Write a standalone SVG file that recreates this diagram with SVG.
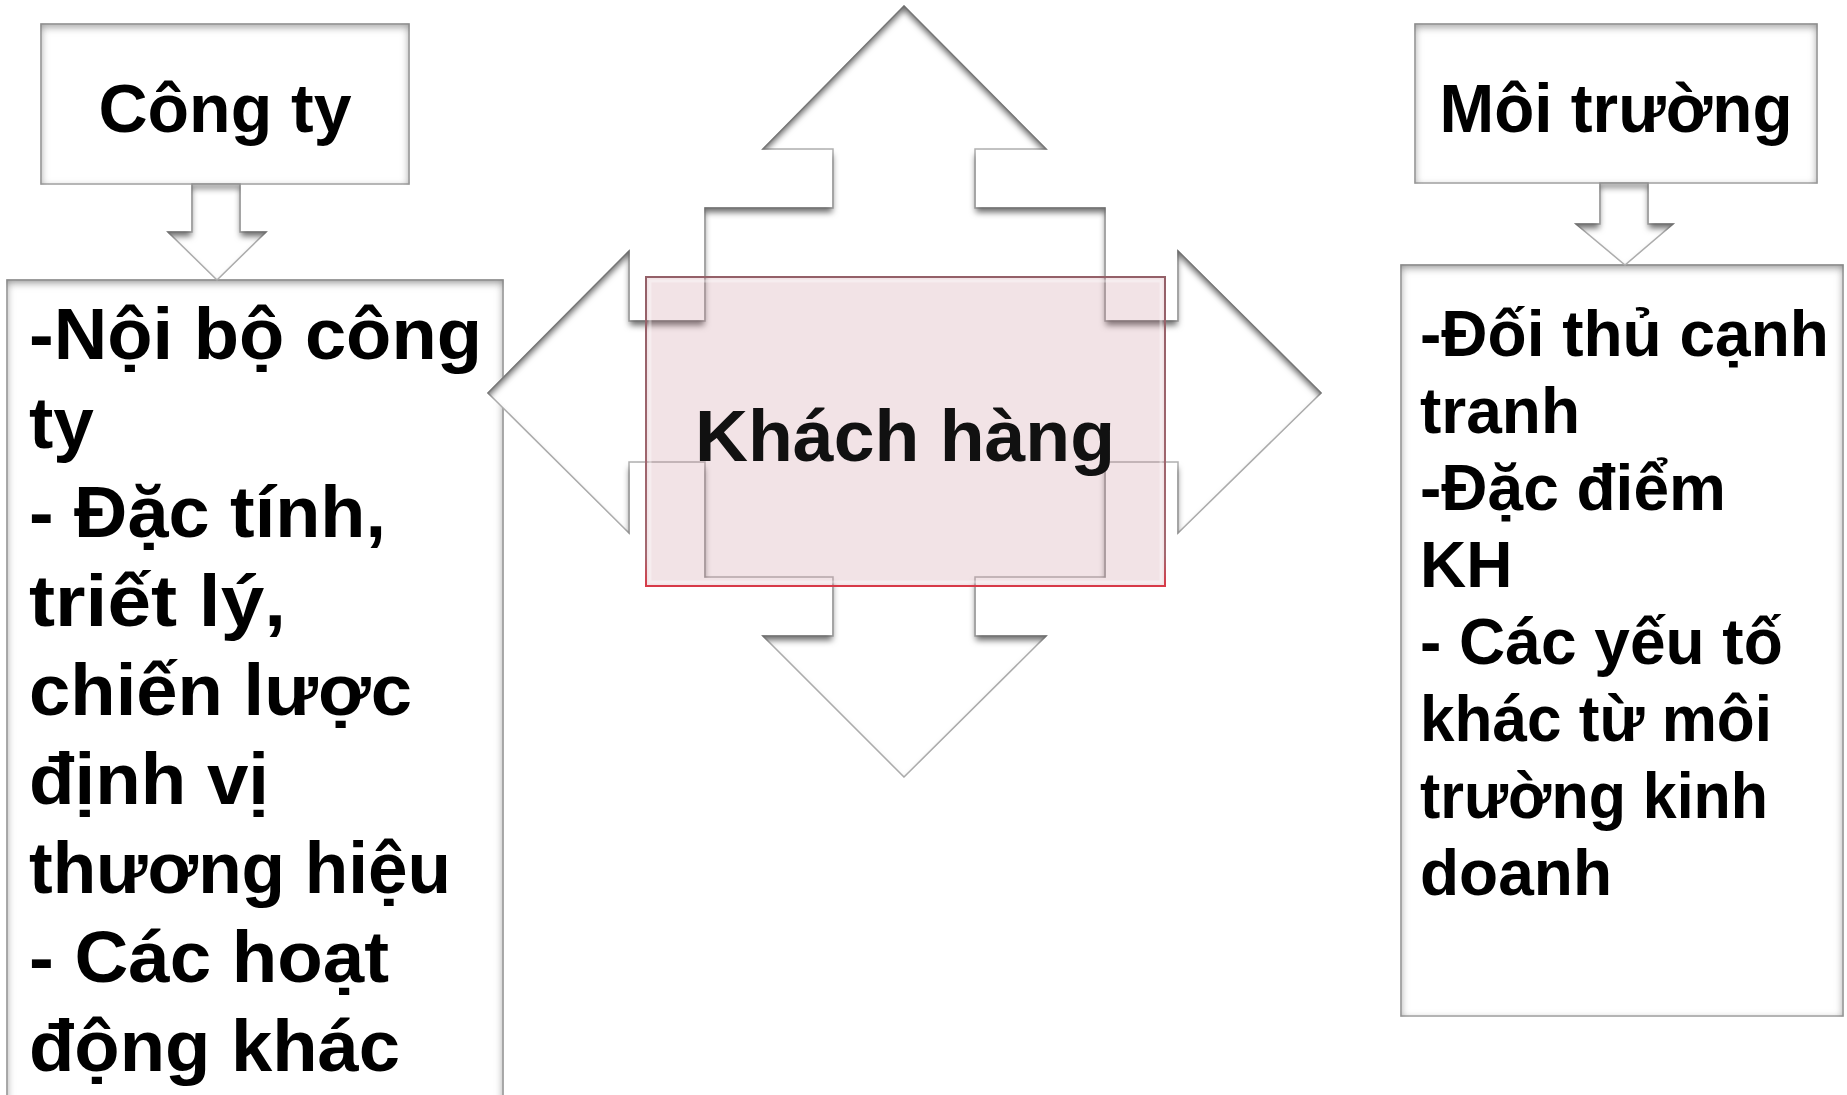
<svg xmlns="http://www.w3.org/2000/svg" width="1847" height="1095" viewBox="0 0 1847 1095">
  <defs>
    <style>
      .box { fill: #ffffff; stroke: #a9a9a9; stroke-width: 1.5; filter: url(#boxBevel); }
      .arrow { fill: #ffffff; stroke: #b2b2b2; stroke-width: 1.5; stroke-linejoin: miter; filter: url(#arrowBevel); }
      .head { font-family: "Liberation Sans", Arial, sans-serif; font-weight: bold; font-size: 68px; fill: #000000; text-anchor: middle; }
      .list { font-family: "Liberation Sans", Arial, sans-serif; font-weight: bold; fill: #000000; }
      .left { font-size: 73px; }
      .right { font-size: 64px; }
      .center { font-family: "Liberation Sans", Arial, sans-serif; font-weight: bold; font-size: 72px; fill: #111111; text-anchor: middle; }
    </style>
    <!-- soft inner shading along the edges of the boxes -->
    <filter id="boxBevel" x="-5%" y="-5%" width="110%" height="110%" color-interpolation-filters="sRGB">
      <feComponentTransfer in="SourceAlpha" result="inv">
        <feFuncA type="table" tableValues="1 0"/>
      </feComponentTransfer>
      <feOffset in="inv" dx="0" dy="3" result="off"/>
      <feGaussianBlur in="off" stdDeviation="4" result="blurInv"/>
      <feFlood flood-color="#7c7c7c" flood-opacity="0.9"/>
      <feComposite in2="blurInv" operator="in"/>
      <feComposite in2="SourceAlpha" operator="in" result="shade"/>
      <feMerge>
        <feMergeNode in="SourceGraphic"/>
        <feMergeNode in="shade"/>
      </feMerge>
    </filter>
    <!-- inner shadow cast from above for the arrow shapes -->
    <filter id="arrowBevel" x="-5%" y="-5%" width="110%" height="110%" color-interpolation-filters="sRGB">
      <feComponentTransfer in="SourceAlpha" result="inv">
        <feFuncA type="table" tableValues="1 0"/>
      </feComponentTransfer>
      <feOffset in="inv" dx="0" dy="5" result="off"/>
      <feGaussianBlur in="off" stdDeviation="3" result="blurInv"/>
      <feFlood flood-color="#6a6a6a" flood-opacity="1"/>
      <feComposite in2="blurInv" operator="in"/>
      <feComposite in2="SourceAlpha" operator="in" result="shade"/>
      <feMerge>
        <feMergeNode in="SourceGraphic"/>
        <feMergeNode in="shade"/>
      </feMerge>
    </filter>
    <linearGradient id="pinkEdge" x1="0" y1="0" x2="0" y2="1">
      <stop offset="0" stop-color="#946068"/>
      <stop offset="0.9" stop-color="#a46870"/>
      <stop offset="1" stop-color="#d83a48"/>
    </linearGradient>
  </defs>

  <rect x="0" y="0" width="1847" height="1095" fill="#ffffff"/>

  <!-- Company -->
  <g id="node-congty">
    <rect class="box" x="41" y="24" width="368" height="160"/>
    <text class="head" x="225" y="132">Công ty</text>
  </g>

  <!-- Environment -->
  <g id="node-moitruong">
    <rect class="box" x="1415" y="24" width="402" height="159"/>
    <text class="head" x="1616" y="132" textLength="353" lengthAdjust="spacingAndGlyphs">Môi trường</text>
  </g>

  <!-- Company factors -->
  <g id="node-noibo">
    <rect class="box" x="7" y="280" width="496" height="840"/>
    <g class="list left">
      <text x="29" y="359" textLength="453" lengthAdjust="spacingAndGlyphs">-Nội bộ công</text>
      <text x="29" y="448">ty</text>
      <text x="29" y="537" textLength="357" lengthAdjust="spacingAndGlyphs">- Đặc tính,</text>
      <text x="29" y="626" textLength="257" lengthAdjust="spacingAndGlyphs">triết lý,</text>
      <text x="29" y="715" textLength="383" lengthAdjust="spacingAndGlyphs">chiến lược</text>
      <text x="29" y="804" textLength="240" lengthAdjust="spacingAndGlyphs">định vị</text>
      <text x="29" y="893" textLength="422" lengthAdjust="spacingAndGlyphs">thương hiệu</text>
      <text x="29" y="982" textLength="360" lengthAdjust="spacingAndGlyphs">- Các hoạt</text>
      <text x="29" y="1071" textLength="371" lengthAdjust="spacingAndGlyphs">động khác</text>
    </g>
  </g>

  <!-- Environment factors -->
  <g id="node-doithu">
    <rect class="box" x="1401" y="265" width="442" height="751"/>
    <g class="list right">
      <text x="1420" y="356">-Đối thủ cạnh</text>
      <text x="1420" y="433">tranh</text>
      <text x="1420" y="510">-Đặc điểm</text>
      <text x="1420" y="587">KH</text>
      <text x="1420" y="664">- Các yếu tố</text>
      <text x="1420" y="741" textLength="352" lengthAdjust="spacingAndGlyphs">khác từ môi</text>
      <text x="1420" y="818" textLength="348" lengthAdjust="spacingAndGlyphs">trường kinh</text>
      <text x="1420" y="895">doanh</text>
    </g>
  </g>

  <!-- Arrows -->
  <g id="connectors">
    <path class="arrow" d="M192,184 L240,184 L240,232 L266,232 L217,280 L168,232 L192,232 Z"/>
    <path class="arrow" d="M1600,183 L1648,183 L1648,224 L1673,224 L1625,265 L1576,224 L1600,224 Z"/>
    <path class="arrow" d="M904,6 L1046,149 L975,149 L975,208 L1105,208 L1105,321 L1178,321 L1178,251 L1321,393 L1178,533 L1178,462 L1105,462 L1105,577 L975,577 L975,636 L1046,636 L904,777 L763,636 L833,636 L833,577 L705,577 L705,462 L629,462 L629,533 L488,393 L629,251 L629,321 L705,321 L705,208 L833,208 L833,149 L763,149 Z"/>
  </g>

  <!-- Customer -->
  <g id="node-khachhang">
    <rect x="646" y="277" width="519" height="309" fill="#c88c96" fill-opacity="0.24" stroke="url(#pinkEdge)" stroke-width="2"/>
    <rect x="650" y="281" width="511" height="301" fill="none" stroke="#ffffff" stroke-opacity="0.35" stroke-width="3"/>
    <text class="center" x="905" y="461" textLength="420" lengthAdjust="spacingAndGlyphs">Khách hàng</text>
  </g>
</svg>
